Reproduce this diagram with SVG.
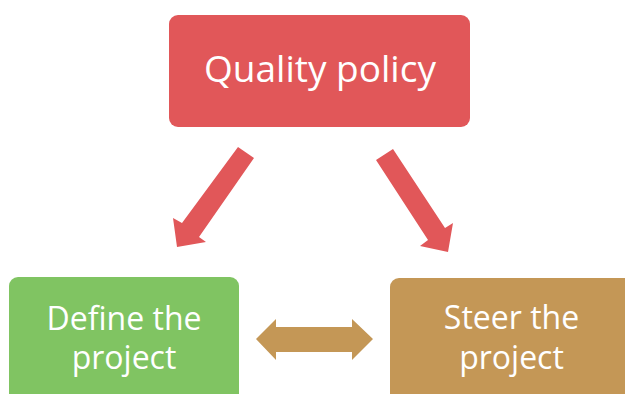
<svg xmlns="http://www.w3.org/2000/svg" width="625" height="394" viewBox="0 0 625 394">
<style>
.lbl{font-family:"Open Sans","Noto Sans","Liberation Sans",sans-serif;fill:#ffffff;text-anchor:middle}
.big{font-size:37px}
.mid{font-size:32px}
</style>
<rect width="625" height="394" fill="#ffffff"/>
<g id="connectors">
<polygon points="238,147 254,158 199,237 206,242 177,247 173,218 182,223" fill="#E15759"/>
<polygon points="376,160 393,149 445,228 453,223 448,252 420,246 428,240" fill="#E15759"/>
<polygon points="256,339 276,319 276,327 352,327 352,319 373,339 352,360 352,352 276,352 276,360" fill="#C49756"/>
</g>
<g id="quality-policy">
<rect x="169" y="15" width="301" height="112" rx="9" fill="#E15759"/>
<text class="lbl big" x="320" y="82">Quality policy</text>
</g>
<g id="define-project">
<rect x="9" y="277" width="230" height="130" rx="9" fill="#80C462"/>
<text class="lbl mid" x="124" y="330">Define the</text>
<text class="lbl mid" x="124" y="369">project</text>
</g>
<g id="steer-project">
<rect x="390" y="278" width="250" height="130" rx="9" fill="#C49756"/>
<text class="lbl mid" x="511.5" y="329">Steer the</text>
<text class="lbl mid" x="511.5" y="369">project</text>
</g>
</svg>
